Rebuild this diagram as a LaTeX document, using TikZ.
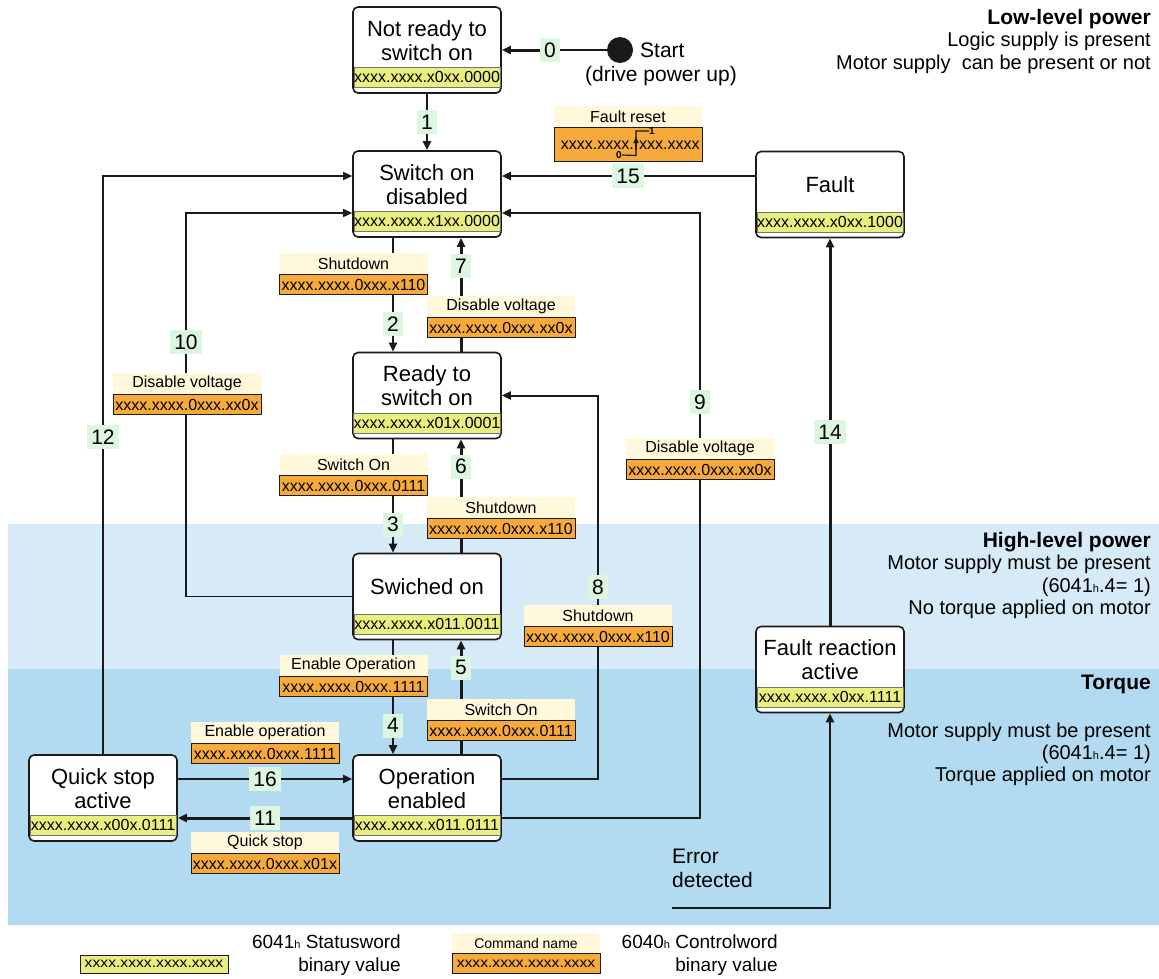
\documentclass[tikz,border=0pt]{standalone}
\usepackage{fontspec}
\setmainfont{Liberation Sans}
\usetikzlibrary{arrows.meta,positioning,calc}
\definecolor{inkk}{HTML}{1A1A1A}
\definecolor{statg}{HTML}{E9EF7E}
\definecolor{cmdo}{HTML}{F5AA3B}
\definecolor{cmdc}{HTML}{FFF8DA}
\definecolor{numg}{HTML}{DDF6E0}
\definecolor{bandl}{HTML}{D6EAF8}
\definecolor{bandd}{HTML}{B2DBF1}
\pgfdeclarelayer{back}
\pgfdeclarelayer{wires}
\pgfsetlayers{back,wires,main}
\newcommand{\fs}[2]{\fontsize{#1pt}{#2pt}\selectfont}
\newcommand{\hx}{{\fontsize{11pt}{11pt}\selectfont h}}
\tikzset{
  ar/.style={-{Triangle[length=9pt,width=8pt]},line width=2pt,inkk},
  arb/.style={ar,line width=3pt},
  wire/.style={line width=1.5pt,inkk},
  sbox/.style={draw=inkk,line width=1.6pt,rounded corners=5pt,fill=white,minimum width=148pt,minimum height=86pt,inner sep=0pt},
  sstat/.style={draw=black!55,line width=0.5pt,fill=statg,minimum width=146.4pt,minimum height=20pt,inner sep=0pt,font=\fs{16}{18}},
  stitle/.style={align=center,inner sep=0pt,font=\fs{22}{24}},
  chead/.style={fill=cmdc,minimum width=148pt,minimum height=21pt,inner sep=0pt,font=\fs{16}{18}},
  cbody/.style={fill=cmdo,draw=inkk,line width=0.7pt,minimum width=148pt,minimum height=20pt,inner sep=0pt,font=\fs{16}{18}},
  num/.style={fill=numg,inner xsep=4pt,inner ysep=0pt,minimum width=20pt,minimum height=24pt,font=\fs{21}{24}},
  side/.style={anchor=north east,align=right,inner sep=0pt,font=\fs{20}{22.3}}
}
\newcommand{\stbox}[5]{%
  \node[sbox] (#1) at (#2,#3) {};
  \node[sstat] (#1-s) at ([yshift=16.5pt]#1.south) {#5};
  \node[stitle] (#1-t) at ([yshift=9.5pt]#1.center) {#4};}
\newcommand{\cmd}[5]{%
  \node[chead] (#1) at (#2,#3+10.5) {#4};
  \node[cbody,below=0pt of #1] (#1-v) {#5};}

\begin{document}
\begin{tikzpicture}[x=1pt,y=-1pt]
\useasboundingbox (0,0) rectangle (1159,978);
\begin{pgfonlayer}{back}
\fill[bandl] (8,524) rectangle (1159,669);
\fill[bandd] (8,669) rectangle (1159,925);
\end{pgfonlayer}

\stbox{nr}{427}{50}{Not ready to\\switch on}{xxxx.xxxx.x0xx.0000}
\stbox{sod}{427}{194}{Switch on\\disabled}{xxxx.xxxx.x1xx.0000}
\stbox{rts}{427}{395.5}{Ready to\\switch on}{xxxx.xxxx.x01x.0001}
\stbox{son}{427}{596.5}{Swiched on}{xxxx.xxxx.x011.0011}
\stbox{ope}{427}{798}{Operation\\enabled}{xxxx.xxxx.x011.0111}
\stbox{qsa}{103}{798}{Quick stop\\active}{xxxx.xxxx.x00x.0111}
\stbox{flt}{830}{194.5}{Fault}{xxxx.xxxx.x0xx.1000}
\stbox{frx}{830}{669.5}{Fault reaction\\active}{xxxx.xxxx.x0xx.1111}

\node[circle,fill=inkk,minimum size=26pt,inner sep=0pt] (start) at (620,50) {};
\node[anchor=west,inner sep=0pt,font=\fs{21}{24}] (start-t) at (640,50) {Start};
\node[inner sep=0pt,font=\fs{21}{24}] (start-d) at (661,76) {(drive power up)};

\node[num] (n0) at (550,50) {0};
\node[num] (n1) at (427,122) {1};
\node[num] (n2) at (393,324) {2};
\node[num] (n7) at (461,266) {7};
\node[num] (n3) at (393,524.5) {3};
\node[num] (n6) at (461,466.5) {6};
\node[num] (n4) at (393,725.5) {4};
\node[num] (n5) at (461,667.5) {5};
\node[num] (n10) at (186,342) {10};
\node[num] (n12) at (103,437) {12};
\node[num] (n9) at (700,402) {9};
\node[num] (n8) at (598,587) {8};
\node[num] (n14) at (830,432) {14};
\node[num] (n15) at (628,176) {15};
\node[num] (n16) at (265,779) {16};
\node[num] (n11) at (265,818) {11};

\cmd{c2}{353.5}{253}{Shutdown}{xxxx.xxxx.0xxx.x110}
\cmd{c7}{501}{296}{Disable voltage}{xxxx.xxxx.0xxx.xx0x}
\cmd{c10}{187}{373}{Disable voltage}{xxxx.xxxx.0xxx.xx0x}
\cmd{c9}{700}{438}{Disable voltage}{xxxx.xxxx.0xxx.xx0x}
\cmd{c3}{353.5}{454}{Switch On}{xxxx.xxxx.0xxx.0111}
\cmd{c6}{501}{497}{Shutdown}{xxxx.xxxx.0xxx.x110}
\cmd{c8}{598}{605}{Shutdown}{xxxx.xxxx.0xxx.x110}
\cmd{c4}{353.5}{655}{Enable Operation}{xxxx.xxxx.0xxx.1111}
\cmd{c5}{501}{699}{Switch On}{xxxx.xxxx.0xxx.0111}
\cmd{c16}{265}{722}{Enable operation}{xxxx.xxxx.0xxx.1111}
\cmd{c11}{265}{832}{Quick stop}{xxxx.xxxx.0xxx.x01x}

\node[chead] (c15) at (628,116.5) {Fault reset};
\node[cbody,below=0pt of c15,minimum height=34pt] (c15-v) {};
\node[anchor=east,inner sep=0pt,font=\fs{16}{18}] (c15-a) at (634,145) {xxxx.xxxx.};
\node[anchor=west,inner sep=0pt,font=\fs{16}{18}] (c15-b) at (639,145) {xxx.xxxx};
\node[inner sep=0pt,font=\bfseries\fs{10}{10}] (c15-0) at (619,155) {0};
\node[inner sep=0pt,font=\bfseries\fs{10}{10}] (c15-1) at (652,131) {1};
\draw[line width=1.2pt,inkk] (c15-0.east) -- (636,155.5) -- (636,131) -- (c15-1.west);
\draw[-{Triangle[length=6pt,width=5pt]},line width=1.2pt,inkk] (636,150) -- (636,137);

\begin{pgfonlayer}{wires}
\draw[wire,line width=2pt] (start) -- (n0);
\draw[arb] (n0) -- (nr);
\draw[ar] (nr) -- (sod);
\draw[ar] (sod.south -| n2) -- (rts.north -| n2);
\draw[arb] (rts.north -| n7) -- (sod.south -| n7);
\draw[ar] (rts.south -| n3) -- (son.north -| n3);
\draw[arb] (son.north -| n6) -- (rts.south -| n6);
\draw[ar] (son.south -| n4) -- (ope.north -| n4);
\draw[arb] (ope.north -| n5) -- (son.south -| n5);
\draw[ar,line width=1.5pt] (son.west) -| (n10) |- ([yshift=-19pt]sod.west);
\draw[ar,line width=1.5pt] (qsa.north) |- (sod.west |- n15);
\draw[ar] (ope.east |- n11) -| (n9) |- ([yshift=-19pt]sod.east);
\draw[ar] (ope.east |- n16) -| (n8) |- (rts.east);
\draw[ar] (flt.west |- n15) -- (sod.east |- n15);
\draw[arb] (frx) -- (flt);
\draw[ar] (qsa.east |- n16) -- (ope.west |- n16);
\draw[arb] (ope.west |- n11) -- (qsa.east |- n11);
\coordinate (err) at (672,908);
\draw[ar,line width=2.4pt] (err) -| (frx.south);
\end{pgfonlayer}

\node[anchor=north west,align=left,inner sep=0pt,font=\fs{21}{24}] (err-t) at (672,849) {Error\\detected};

\node[side] (low) at (1151,9) {{\bfseries\fs{21}{22.3}Low-level power}\\Logic supply is present\\Motor supply\ \ can be present or not};
\node[side] (high) at (1151,532) {{\bfseries\fs{21}{22.3}High-level power}\\Motor supply must be present\\(6041\hx.4= 1)\\No torque applied on motor};
\node[side,font=\bfseries\fs{21}{22.3}] (torq) at (1151,675) {Torque};
\node[side] (torq-d) at (1151,722.5) {Motor supply must be present\\(6041\hx.4= 1)\\Torque applied on motor};

\node[sstat,draw=inkk,minimum width=148pt,minimum height=18pt,font=\fs{14}{16}] (lg-s) at (154,964) {\scalebox{1.12}[1]{xxxx.xxxx.xxxx.xxxx}};
\node[anchor=east,align=right,inner sep=0pt,font=\fs{19}{23}] (lg-st) at (401,955.5) {6041\hx{} Statusword\\binary value};
\node[chead,minimum height=20pt,font=\fs{14}{16}] (lg-c) at (526,943) {Command name};
\node[cbody,below=0pt of lg-c,font=\fs{14}{16}] (lg-cv) {\scalebox{1.12}[1]{xxxx.xxxx.xxxx.xxxx}};
\node[anchor=east,align=right,inner sep=0pt,font=\fs{19}{23}] (lg-ct) at (778,955.5) {6040\hx{} Controlword\\binary value};
\end{tikzpicture}
\end{document}
